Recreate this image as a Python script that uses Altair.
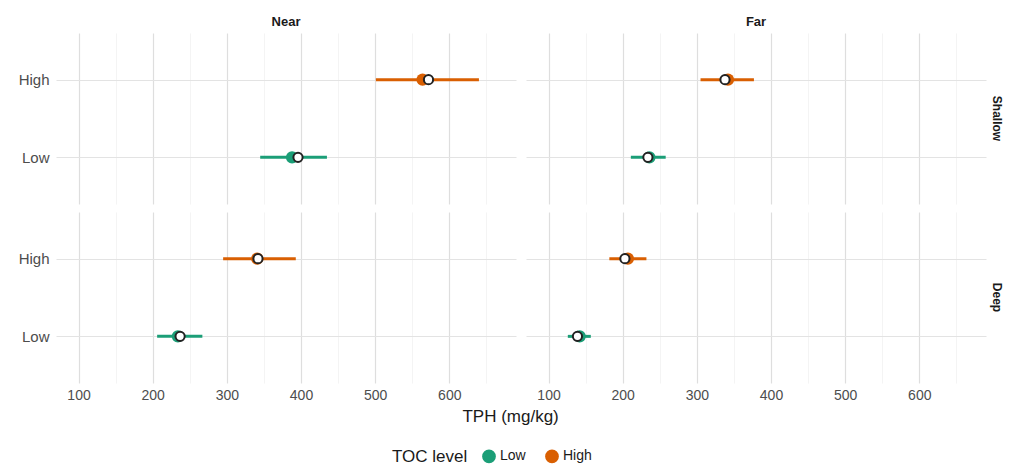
import altair as alt
import pandas as pd

distance = ["Near", "Near", "Near", "Near", "Far", "Far", "Far", "Far"]
depth = ["Shallow", "Shallow", "Deep", "Deep", "Shallow", "Shallow", "Deep", "Deep"]
toc = ["High", "Low", "High", "Low", "High", "Low", "High", "Low"]
lower = [501, 345, 295, 206, 305, 211, 182, 126]
upper = [640, 435, 393, 267, 377, 258, 232, 157]
point_a = [564, 388, 341, 234, 342, 236, 207, 142]
point_b = [572, 396, 342, 237, 338, 234, 203, 139]

df = pd.DataFrame({
    "Distance": distance, "Depth": depth, "TOC": toc,
    "lo": lower, "hi": upper, "pa": point_a, "pb": point_b,
})

FONT = "Liberation Sans"
colors = alt.Scale(domain=["Low", "High"], range=["#1B9E77", "#D95F02"])
xscale = alt.Scale(domain=[69.6, 690], nice=False, zero=False)
grid_vals = [100, 150, 200, 250, 300, 350, 400, 450, 500, 550, 600, 650]

xaxis = alt.Axis(
    values=grid_vals,
    labelExpr="datum.value % 100 === 0 ? datum.label : ''",
    gridColor={"condition": {"test": "datum.value % 100 === 0", "value": "#dedede"}, "value": "#efefef"},
    gridWidth={"condition": {"test": "datum.value % 100 === 0", "value": 1.2}, "value": 0.7},
    title=None,
)
yenc = alt.Y("TOC:N", sort=["High", "Low"], scale=alt.Scale(type="point", padding=0.6), title=None,
             axis=alt.Axis(grid=True, gridColor="#e3e3e3", gridWidth=1))

bars = alt.Chart().mark_rule(strokeWidth=3).encode(
    x=alt.X("lo:Q", scale=xscale, axis=xaxis),
    x2="hi:Q",
    y=yenc,
    color=alt.Color("TOC:N", scale=colors, title="TOC level",
                    legend=alt.Legend(orient="none", direction="horizontal", symbolType="circle",
                                      legendX=336, legendY=416)),
)
pts = alt.Chart().mark_point(filled=True, size=150, opacity=1).encode(
    x=alt.X("pa:Q", scale=xscale),
    y=yenc,
    color=alt.Color("TOC:N", scale=colors),
)
white = alt.Chart().mark_point(filled=True, size=85, opacity=1, fill="white",
                               stroke="#222222", strokeWidth=2).encode(
    x=alt.X("pb:Q", scale=xscale),
    y=yenc,
)

chart = alt.layer(bars, pts, white, data=df).properties(
    width=460, height=171
).facet(
    column=alt.Column("Distance:N", sort=["Near", "Far"],
                      header=alt.Header(title=None, labelFontWeight="bold", labelFontSize=13,
                                        labelFont=FONT, labelColor="#1a1a1a", labelPadding=4)),
    row=alt.Row("Depth:N", sort=["Shallow", "Deep"],
                header=alt.Header(title=None, labelFontWeight="bold", labelFontSize=12,
                                  labelFont=FONT, labelColor="#1a1a1a", labelAngle=90,
                                  labelOrient="right", labelPadding=4)),
    spacing={"row": 8, "column": 10},
).resolve_scale(x="shared", y="shared").properties(
    padding={"left": 10, "top": 8, "right": 0, "bottom": 0},
    title=alt.TitleParams("TPH (mg/kg)", orient="bottom", anchor="middle", fontSize=17,
                          fontWeight="normal", font=FONT, color="#1a1a1a", offset=-57),
).configure_view(stroke=None).configure_axis(
    domain=False, ticks=False, labelFont=FONT, titleFont=FONT,
    labelColor="#4d4d4d", titleColor="#1a1a1a",
).configure_axisX(
    labelFontSize=14, labelPadding=5,
).configure_axisY(
    labelFontSize=15, labelPadding=7,
).configure_legend(
    titleFont=FONT, labelFont=FONT, titleFontSize=17, titleFontWeight="normal",
    labelFontSize=14, titleOrient="left", symbolSize=150,
    titleColor="#1a1a1a", labelColor="#1a1a1a", columnPadding=16, titlePadding=14,
)

chart.save("out.html", embed_options={"renderer": "svg", "actions": False})
